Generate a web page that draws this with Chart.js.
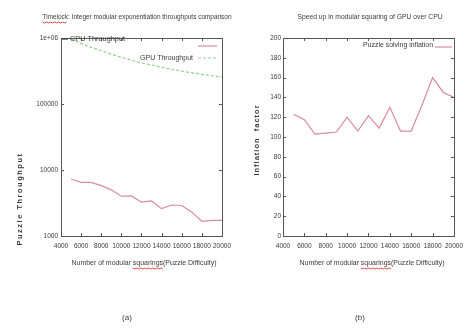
<!DOCTYPE html>
<html>
<head>
<meta charset="utf-8">
<script src="https://cdn.jsdelivr.net/npm/chart.js@4.4.0/dist/chart.umd.min.js"></script>
<style>
  html, body { margin: 0; padding: 0; background: #fff; }
  #wrap { position: relative; width: 469px; height: 328px; }
  canvas { position: absolute; top: 0; }
</style>
</head>
<body>
<div id="wrap">
  <canvas id="left" width="237" height="328" style="left:0"></canvas>
  <canvas id="right" width="232" height="328" style="left:237px"></canvas>
</div>
<script>
// difficulty = number of modular squarings
const difficulty = [5000, 6000, 7000, 8000, 9000, 10000, 11000, 12000, 13000, 14000, 15000, 16000, 17000, 18000, 19000, 20000];
const cpuThroughput = [7300, 6500, 6500, 5800, 5000, 4000, 4050, 3250, 3400, 2600, 2950, 2900, 2300, 1670, 1720, 1720];
const gpuThroughput = [970000, 830000, 720000, 640000, 570000, 510000, 460000, 420000, 390000, 360000, 335000, 315000, 297000, 282000, 268000, 255000];
const inflation = [123, 117.5, 103, 104, 105, 120, 106, 121.5, 109, 130, 106, 106, 132, 160, 145, 140];

const xTicks = [4000, 6000, 8000, 10000, 12000, 14000, 16000, 18000, 20000];
const throughputTicks = [1000, 10000, 100000, 1000000];
const inflationTicks = [0, 20, 40, 60, 80, 100, 120, 140, 160, 180, 200];

const FONT = '"Liberation Sans", Arial, sans-serif';
const INK = '#3a3a3a';
const RED = '#d98c9b';
const GREEN = '#8ed68e';
const FRAME = '#555';

Chart.defaults.font.family = FONT;
Chart.defaults.color = INK;

const pts = (ys) => difficulty.map((x, i) => ({ x: x, y: ys[i] }));

// draws a label; opt.width squeezes it horizontally to that width (narrow look of the original)
function text(ctx, str, x, y, opt) {
  ctx.save();
  ctx.font = opt.font || ('8px ' + FONT);
  ctx.fillStyle = opt.color || INK;
  ctx.textAlign = opt.align || 'center';
  ctx.textBaseline = 'middle';
  if (opt.spacing) ctx.letterSpacing = opt.spacing;
  ctx.translate(x, y);
  if (opt.rotate) ctx.rotate(opt.rotate);
  if (opt.width) ctx.scale(Math.min(1, opt.width / ctx.measureText(str).width), 1);
  ctx.fillText(str, 0, 0);
  ctx.restore();
}

// red spell-check underline under a word of a centred, squeezed string
function squiggle(ctx, str, word, cx, y, font, width) {
  ctx.save();
  ctx.font = font;
  const full = ctx.measureText(str).width;
  const k = Math.min(1, width / full);
  const i = str.indexOf(word);
  const x0 = cx - (full * k) / 2 + ctx.measureText(str.slice(0, i)).width * k;
  const w = ctx.measureText(word).width * k;
  ctx.strokeStyle = '#e04848';
  ctx.lineWidth = 1;
  ctx.beginPath();
  for (let x = 0; x <= w; x += 2) {
    const yy = y + ((x / 2) % 2 ? 1 : 0);
    if (x === 0) ctx.moveTo(x0 + x, yy); else ctx.lineTo(x0 + x, yy);
  }
  ctx.stroke();
  ctx.restore();
}

function frameAndTicks(chart, yVals) {
  const ctx = chart.ctx;
  const a = chart.chartArea;
  const xs = chart.scales.x, ys = chart.scales.y;
  ctx.save();
  ctx.strokeStyle = FRAME;
  ctx.lineWidth = 1;
  ctx.strokeRect(Math.round(a.left) + 0.5, Math.round(a.top) + 0.5, Math.round(a.right - a.left), Math.round(a.bottom - a.top));
  ctx.beginPath();
  xTicks.forEach(v => {
    const px = Math.round(xs.getPixelForValue(v)) + 0.5;
    ctx.moveTo(px, a.bottom); ctx.lineTo(px, a.bottom - 3);
    ctx.moveTo(px, a.top); ctx.lineTo(px, a.top + 3);
  });
  yVals.forEach(v => {
    const py = Math.round(ys.getPixelForValue(v)) + 0.5;
    ctx.moveTo(a.left, py); ctx.lineTo(a.left + 3, py);
    ctx.moveTo(a.right, py); ctx.lineTo(a.right - 3, py);
  });
  ctx.stroke();
  ctx.restore();
}

function sample(ctx, x0, x1, y, color, dash) {
  ctx.save();
  ctx.strokeStyle = color;
  ctx.lineWidth = 1.2;
  ctx.setLineDash(dash || []);
  ctx.beginPath();
  ctx.moveTo(x0, y); ctx.lineTo(x1, y);
  ctx.stroke();
  ctx.restore();
}

const SMALL = '8px ' + FONT;
const BOLD = 'bold 7.5px ' + FONT;
const xTitle = 'Number of modular squarings(Puzzle Difficulty)';

const leftDecor = {
  id: 'leftDecor',
  afterDraw(chart) {
    const ctx = chart.ctx;
    frameAndTicks(chart, throughputTicks);
    const title = 'Timelock: Integer modular exponentiation throughputs comparison';
    text(ctx, title, 137, 17, { font: SMALL, width: 189 });
    squiggle(ctx, title, 'Timelock', 137, 22, SMALL, 189);
    text(ctx, 'Puzzle Throughput', 20, 199, { font: BOLD, rotate: -Math.PI / 2, spacing: '1.5px' });
    text(ctx, xTitle, 144, 263, { font: SMALL, width: 145 });
    squiggle(ctx, xTitle, 'squarings', 144, 268, SMALL, 145);
    // key
    sample(ctx, 62, 68, 39, '#333');
    text(ctx, 'CPU Throughput', 70, 39, { font: SMALL, align: 'left', width: 55 });
    sample(ctx, 198, 217, 46, RED);
    text(ctx, 'GPU Throughput', 193, 58, { font: SMALL, align: 'right', width: 53 });
    sample(ctx, 198, 217, 58, GREEN, [3, 2]);
    text(ctx, '(a)', 127, 318, { font: '8px ' + FONT });
  }
};

const rightDecor = {
  id: 'rightDecor',
  afterDraw(chart) {
    const ctx = chart.ctx;
    frameAndTicks(chart, inflationTicks);
    text(ctx, 'Speed up in modular squaring of GPU over CPU', 133, 17, { font: SMALL, width: 145 });
    text(ctx, 'Inflation  factor', 20, 140, { font: BOLD, rotate: -Math.PI / 2, spacing: '1px' });
    text(ctx, xTitle, 135, 263, { font: SMALL, width: 145 });
    squiggle(ctx, xTitle, 'squarings', 135, 268, SMALL, 145);
    text(ctx, 'Puzzle solving inflation', 196, 45, { font: SMALL, align: 'right', width: 70 });
    sample(ctx, 198, 215, 47, RED);
    text(ctx, '(b)', 123, 318, { font: '8px ' + FONT });
  }
};

function xScale() {
  return {
    type: 'linear',
    min: 4000,
    max: 20000,
    afterBuildTicks: s => { s.ticks = xTicks.map(v => ({ value: v })); },
    afterFit: s => { s.height = 92; },
    ticks: { font: { size: 6.5 }, color: INK, padding: 6, maxRotation: 0, autoSkip: false, callback: v => String(v) },
    grid: { display: false, drawTicks: false },
    border: { display: false }
  };
}

new Chart(document.getElementById('left'), {
  type: 'line',
  data: {
    datasets: [
      { label: 'CPU Throughput', data: pts(cpuThroughput), borderColor: RED, borderWidth: 1.2, pointRadius: 0, tension: 0 },
      { label: 'GPU Throughput', data: pts(gpuThroughput), borderColor: GREEN, borderWidth: 1.2, borderDash: [3, 2], pointRadius: 0, tension: 0 }
    ]
  },
  options: {
    responsive: false,
    animation: false,
    devicePixelRatio: 1,
    layout: { padding: { left: 0, right: 14, top: 38, bottom: 0 } },
    plugins: { legend: { display: false }, tooltip: { enabled: false } },
    scales: {
      x: xScale(),
      y: {
        type: 'logarithmic',
        min: 1000,
        max: 1000000,
        afterBuildTicks: s => { s.ticks = throughputTicks.map(v => ({ value: v })); },
        afterFit: s => { s.width = 61; },
        ticks: {
          font: { size: 6.5 }, color: INK, padding: 3,
          callback: v => (v === 1000000 ? '1e+06' : String(v))
        },
        grid: { display: false, drawTicks: false },
        border: { display: false }
      }
    }
  },
  plugins: [leftDecor]
});

new Chart(document.getElementById('right'), {
  type: 'line',
  data: {
    datasets: [
      { label: 'Puzzle solving inflation', data: pts(inflation), borderColor: RED, borderWidth: 1.2, pointRadius: 0, tension: 0 }
    ]
  },
  options: {
    responsive: false,
    animation: false,
    devicePixelRatio: 1,
    layout: { padding: { left: 0, right: 11, top: 38, bottom: 0 } },
    plugins: { legend: { display: false }, tooltip: { enabled: false } },
    scales: {
      x: xScale(),
      y: {
        type: 'linear',
        min: 0,
        max: 200,
        afterBuildTicks: s => { s.ticks = inflationTicks.map(v => ({ value: v })); },
        afterFit: s => { s.width = 46; },
        ticks: { font: { size: 6.5 }, color: INK, padding: 2 },
        grid: { display: false, drawTicks: false },
        border: { display: false }
      }
    }
  },
  plugins: [rightDecor]
});
</script>
</body>
</html>
